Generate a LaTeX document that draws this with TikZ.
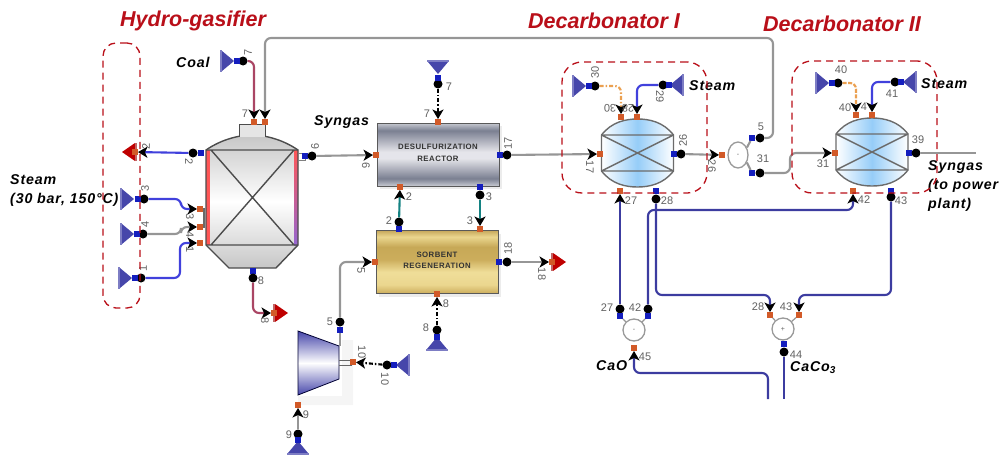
\documentclass[tikz,border=0pt]{standalone}
\usepackage{fontspec}
\setmainfont{Liberation Sans}
\newfontfamily\spacedfont[LetterSpace=6]{Liberation Sans}
\usetikzlibrary{arrows.meta, positioning, shapes.geometric, shadows}
\definecolor{redmark}{RGB}{185,15,25}
\definecolor{feedblue}{RGB}{70,70,170}
\definecolor{portblue}{RGB}{20,30,190}
\definecolor{portorange}{RGB}{210,90,40}
\definecolor{steamblue}{RGB}{65,65,220}
\definecolor{solidblue}{RGB}{60,60,160}
\definecolor{coalred}{RGB}{170,70,100}
\definecolor{loopteal}{RGB}{20,130,130}
\definecolor{gasgray}{RGB}{150,150,150}
\definecolor{heatorange}{RGB}{235,160,80}
\definecolor{vesselblue}{RGB}{150,205,248}
\pgfdeclareverticalshading{desulfband}{100bp}{
    rgb(0bp)=(0.78,0.79,0.82); rgb(25bp)=(0.78,0.79,0.82); rgb(31bp)=(0.48,0.50,0.57);
    rgb(47bp)=(0.90,0.90,0.92); rgb(52bp)=(0.90,0.90,0.92); rgb(69bp)=(0.48,0.50,0.57);
    rgb(75bp)=(0.78,0.79,0.82); rgb(100bp)=(0.78,0.79,0.82)}
\pgfdeclareverticalshading{goldband}{100bp}{
    rgb(0bp)=(0.80,0.68,0.36); rgb(25bp)=(0.80,0.68,0.36); rgb(32bp)=(0.92,0.84,0.56);
    rgb(42bp)=(0.94,0.87,0.60); rgb(52bp)=(0.80,0.68,0.36); rgb(62bp)=(0.78,0.66,0.34);
    rgb(70bp)=(0.92,0.84,0.56); rgb(75bp)=(0.78,0.66,0.36); rgb(100bp)=(0.78,0.66,0.36)}

\begin{document}
\begin{tikzpicture}[
        x=1pt, y=-1pt,
        dotnode/.style={circle, fill=black, inner sep=0pt, minimum size=9pt},
        inport/.style={fill=portorange, inner sep=0pt, minimum size=5.5pt},
        outport/.style={fill=portblue, inner sep=0pt, minimum size=5.5pt},
        num/.style={text=black!62, inner sep=0pt, font=\fontsize{11}{11}\selectfont},
        title/.style={text=redmark, inner sep=0pt, font=\fontsize{21.5}{22}\bfseries\itshape\selectfont},
        note/.style={align=left, inner sep=0pt, font=\fontsize{14.2}{19}\spacedfont\bfseries\itshape\selectfont},
        boxtext/.style={align=center, text=black!80, font=\fontsize{7.8}{11.5}\spacedfont\bfseries\selectfont},
        dashbox/.style={draw=redmark, dash pattern=on 7pt off 5pt, line width=1.3pt, rounded corners=13pt, inner sep=0pt},
        mixnode/.style={draw=black!40, line width=1.3pt, fill=white, inner sep=0pt, text=black!60, font=\fontsize{7}{7}\selectfont},
        flow/.style={-{Stealth[black, length=9.5pt, width=11pt, inset=2.5pt]}, line width=2.1pt, rounded corners=6pt},
        plain/.style={line width=2.1pt, rounded corners=6pt},
        dashflow/.style={flow, dash pattern=on 4pt off 2pt on 1.5pt off 2pt},
        feed/.pic={
            \fill[feedblue] (0,0) -- (-12,-10) -- (-12,10) -- cycle;
            \fill[feedblue!70] (-14,-11) rectangle (-12,11);
        },
        sink/.pic={
            \fill[red!75!black] (0,-9) -- (13,0) -- (0,9) -- cycle;
            \fill[red!60!black!60] (-2,-9) rectangle (0,9);
        },
        vessel/.pic={
            \path[left color=white, right color=white, middle color=vesselblue]
                (-36,-18) .. controls (-26,-31) and (-12,-34) .. (0,-34) .. controls (12,-34) and (26,-31) .. (36,-18)
                -- (36,18) .. controls (26,31) and (12,34) .. (0,34) .. controls (-12,34) and (-26,31) .. (-36,18) -- cycle;
            \draw[black!58, line width=1.4pt]
                (-36,-18) .. controls (-26,-31) and (-12,-34) .. (0,-34) .. controls (12,-34) and (26,-31) .. (36,-18)
                -- (36,18) .. controls (26,31) and (12,34) .. (0,34) .. controls (-12,34) and (-26,31) .. (-36,18) -- cycle;
            \draw[black!58, line width=1.4pt] (-36,-18) -- (36,-18) (-36,18) -- (36,18) (-36,-18) -- (36,18) (-36,18) -- (36,-18);
        }
    ]
    \useasboundingbox (0,0) rectangle (1000,455);

    % gasifier
    \path[top color=black!22, bottom color=black!22, middle color=white]
        (206,150) .. controls (222,139) and (240,135) .. (252,135) .. controls (264,135) and (282,139) .. (298,150)
        -- (298,245) -- (276,268) -- (229,268) -- (206,245) -- cycle;
    \fill[red!55!pink] (206,150) rectangle (210,245);
    \path[top color=red!55!pink, bottom color=blue!40!violet!60] (294,150) rectangle (298,245);
    \draw[black!70, line width=1.4pt]
        (206,150) .. controls (222,139) and (240,135) .. (252,135) .. controls (264,135) and (282,139) .. (298,150)
        -- (298,245) -- (276,268) -- (229,268) -- (206,245) -- cycle;
    \draw[black!70, line width=1.4pt] (206,150) -- (298,150) (206,245) -- (298,245) (211,150) -- (294,245) (211,245) -- (294,150);
    \draw[black!70, line width=1pt, fill=white!90!black] (239,137) -- (239,124) -- (265,124) -- (265,137);
    \draw[black!50, line width=1pt] (298,153) -- (305,153) -- (305,160) -- (298,160);

    % reactors
    \node[draw=black!65, shading=desulfband, minimum width=122pt, minimum height=63pt, inner sep=0pt,
        drop shadow={shadow xshift=3pt, shadow yshift=-3pt, opacity=.15}] (desulf) at (438,154.5) {};
    \node[boxtext] (desulftext) at (438,153) {DESULFURIZATION\\REACTOR};
    \node[draw=black!65, shading=goldband, minimum width=122pt, minimum height=63pt, inner sep=0pt,
        drop shadow={shadow xshift=3pt, shadow yshift=-3pt, opacity=.15}] (sorbent) at (437,262) {};
    \node[boxtext] (sorbenttext) at (437,260.5) {SORBENT\\REGENERATION};

    % compressor
    \fill[black!4] (342,340) rectangle (353,405) (298,396) rectangle (353,405);
    \path[top color=feedblue, bottom color=feedblue, middle color=white] (298,331) -- (339,346) -- (339,379) -- (298,395) -- cycle;
    \draw[black!80!blue, line width=.8pt] (298,331) -- (339,346) -- (339,379) -- (298,395) -- cycle;
    \draw[black!60, line width=.8pt] (339,360) -- (352,360) (339,365) -- (352,365);

    % decarbonator vessels
    \pic at (637.5,153) {vessel};
    \pic at (872,152) {vessel};

    % mixers and splitter
    \node[mixnode, ellipse, minimum width=20pt, minimum height=26pt] (split) at (738,155) {-};
    \node[mixnode, circle, minimum size=22pt] (mixcao) at (634,330) {-};
    \node[mixnode, circle, minimum size=22pt] (mixcaco) at (783,329) {+};

    % sources and sinks
    \pic at (234,61) {feed};
    \pic at (134,199) {feed};
    \pic at (134,234) {feed};
    \pic at (132,278) {feed};
    \pic[rotate=-90] at (438,74) {feed};
    \pic[rotate=90] at (437,337) {feed};
    \pic[rotate=90] at (298,441) {feed};
    \pic[rotate=180] at (396,365) {feed};
    \pic at (586,86) {feed};
    \pic[rotate=180] at (670,85) {feed};
    \pic at (829,83) {feed};
    \pic[rotate=180] at (903,82) {feed};
    \pic[rotate=180] at (135,152) {sink};
    \pic at (275,313) {sink};
    \pic at (553,262) {sink};

    % junction dots and ports
    \node[dotnode] (d7coal) at (243,61) {};
    \node[outport] (b7coal) at (237,61) {};
    \node[inport] (p7coal) at (254,122) {};
    \node[inport] (p7back) at (265,122) {};
    \node[dotnode] (d2out) at (193,153) {};
    \node[outport] (b2out) at (201,153) {};
    \node[inport] (p2out) at (135,152) {};
    \node[dotnode] (d3) at (144,199) {};
    \node[outport] (b3) at (138,199) {};
    \node[inport] (p3) at (200,209) {};
    \node[dotnode] (d4) at (143,234) {};
    \node[outport] (b4) at (137,234) {};
    \node[inport] (p4) at (200,227) {};
    \node[dotnode] (d1) at (141,278) {};
    \node[outport] (b1) at (135,278) {};
    \node[inport] (p1) at (200,243) {};
    \node[outport] (b8bot) at (253,271) {};
    \node[dotnode] (d8bot) at (253,278) {};
    \node[inport] (p8bot) at (274,313) {};
    \node[outport] (b6) at (305,156) {};
    \node[dotnode] (d6) at (312,156) {};
    \node[inport] (p6) at (376,155) {};
    \node[inport] (p7top) at (438,122) {};
    \node[dotnode] (d7top) at (438,84) {};
    \node[outport] (b7top) at (438,78) {};
    \node[outport] (b17) at (500,155) {};
    \node[dotnode] (d17) at (507,155) {};
    \node[inport] (p17) at (600,154) {};
    \node[inport] (p2up) at (400,187) {};
    \node[dotnode] (d2up) at (399,222) {};
    \node[outport] (b2up) at (399,229) {};
    \node[outport] (b3dn) at (480,187) {};
    \node[dotnode] (d3dn) at (480,195) {};
    \node[inport] (p3dn) at (480,229) {};
    \node[inport] (p5) at (375,262) {};
    \node[dotnode] (d5comp) at (340,322) {};
    \node[outport] (b5comp) at (340,330) {};
    \node[outport] (b18) at (499,262) {};
    \node[dotnode] (d18) at (507,262) {};
    \node[inport] (p18) at (552,262) {};
    \node[inport] (p8reg) at (437,294) {};
    \node[dotnode] (d8reg) at (437,330) {};
    \node[outport] (b8reg) at (437,337) {};
    \node[inport] (p10) at (353,362) {};
    \node[dotnode] (d10) at (387,365) {};
    \node[outport] (b10) at (394,365) {};
    \node[inport] (p9) at (298,405) {};
    \node[dotnode] (d9) at (298,434) {};
    \node[outport] (b9) at (298,440) {};
    \node[dotnode] (d30) at (595,86) {};
    \node[outport] (b30) at (589,86) {};
    \node[inport] (p30) at (621,117) {};
    \node[dotnode] (d29) at (663,85) {};
    \node[outport] (b29) at (669,85) {};
    \node[inport] (p29) at (637,117) {};
    \node[outport] (b26) at (674,154) {};
    \node[dotnode] (d26) at (681,154) {};
    \node[inport] (p26) at (722,155) {};
    \node[outport] (b5split) at (752,138) {};
    \node[dotnode] (d5split) at (760,138) {};
    \node[outport] (b31split) at (752,173) {};
    \node[dotnode] (d31split) at (760,173) {};
    \node[inport] (p27) at (620,191) {};
    \node[outport] (b28) at (656,191) {};
    \node[dotnode] (d28) at (656,199) {};
    \node[dotnode] (d27) at (620,309) {};
    \node[outport] (b27) at (620,316) {};
    \node[dotnode] (d42mix) at (648,309) {};
    \node[outport] (b42mix) at (648,316) {};
    \node[inport] (p45) at (634,348) {};
    \node[inport] (p28) at (770,315) {};
    \node[inport] (p43) at (799,315) {};
    \node[outport] (b44) at (784,344) {};
    \node[dotnode] (d44) at (784,352) {};
    \node[inport] (p42) at (853,191) {};
    \node[outport] (b43) at (891,191) {};
    \node[dotnode] (d43) at (891,197) {};
    \node[dotnode] (d40) at (838,83) {};
    \node[outport] (b40) at (832,83) {};
    \node[inport] (p40) at (856,115) {};
    \node[dotnode] (d41) at (895,82) {};
    \node[outport] (b41) at (901,82) {};
    \node[inport] (p41) at (872,115) {};
    \node[inport] (p31) at (835,153) {};
    \node[outport] (b39) at (909,153) {};
    \node[dotnode] (d39) at (916,153) {};
    \coordinate (synout) at (976,153);
    \coordinate (cao) at (768,399);
    \coordinate (caco) at (784,399);

    % connectors
    \draw[flow, coalred] (d7coal) -| (p7coal);
    \draw[flow, gasgray] (d5split) -- (773,138) -- (773,38) -| (p7back);
    \draw[flow, steamblue] (d2out) -- (p2out);
    \draw[flow, steamblue] (d3) -- (181,199) |- (p3);
    \draw[flow, gasgray] (d4) -- (181,234) |- (p4);
    \draw[flow, steamblue] (d1) -- (180,278) |- (p1);
    \draw[gasgray!70!black, line width=1.2pt] (p3) -- (204,209) -- (204,227) -- (p4);
    \draw[flow, coalred] (d8bot) |- (p8bot);
    \draw[flow, gasgray] (d6) -- (p6);
    \draw[dashflow, black] (d7top) -- (p7top);
    \draw[flow, gasgray] (d17) -- (p17);
    \draw[flow, loopteal] (d2up) -- (p2up);
    \draw[flow, loopteal] (d3dn) -- (p3dn);
    \draw[flow, gasgray] (d5comp) |- (p5);
    \draw[flow, gasgray] (d18) -- (p18);
    \draw[dashflow, black] (d8reg) -- (p8reg);
    \draw[dashflow, black] (d10) -- (p10);
    \draw[flow, gasgray] (d9) -- (p9);
    \draw[plain, gasgray] (b5comp) -- (340,346);
    \draw[dashflow, heatorange] (d30) -| (p30);
    \draw[flow, steamblue] (d29) -| (p29);
    \draw[flow, gasgray] (d26) -- (p26);
    \draw[plain, gasgray, rounded corners=0pt] (split.40) -- (b5split);
    \draw[plain, gasgray, rounded corners=0pt] (split.-40) -- (b31split);
    \draw[flow, gasgray] (d31split) -- (790,173) |- (p31);
    \draw[flow, solidblue] (d27) -- (p27);
    \draw[flow, solidblue] (d28) -- (656,295) -| (p28);
    \draw[flow, solidblue] (d43) -- (891,295) -| (p43);
    \draw[flow, solidblue] (d42mix) -- (648,210) -| (p42);
    \draw[flow, solidblue] (cao) -- (768,373) -| (p45);
    \draw[plain, solidblue] (d44) -- (caco);
    \draw[flow, heatorange, dash pattern=on 4pt off 1.5pt] (d40) -| (p40);
    \draw[flow, steamblue] (d41) -| (p41);
    \draw[plain, gasgray] (d39) -- (synout);
    \draw[gasgray, line width=1.2pt] (mixcao) -- (b27) (mixcao) -- (b42mix) (mixcaco) -- (p28) (mixcaco) -- (p43);

    % stream numbers
    \node[num, rotate=90] (n7coal) at (248,52) {7};
    \node[num] (n7in) at (245,114) {7};
    \node[num, rotate=90] (n2a) at (146,146) {2};
    \node[num, rotate=-90] (n2b) at (189,162) {2};
    \node[num, rotate=90] (n3a) at (145,188) {3};
    \node[num, rotate=-90] (n3b) at (190,217) {3};
    \node[num, rotate=90] (n4a) at (145,224) {4};
    \node[num, rotate=-90] (n4b) at (190,235) {4};
    \node[num, rotate=90] (n1a) at (143,268) {1};
    \node[num, rotate=-90] (n1b) at (190,250) {1};
    \node[num] (n8a) at (261,281) {8};
    \node[num, rotate=-90] (n8b) at (265,321) {8};
    \node[num, rotate=90] (n6a) at (315,146) {6};
    \node[num, rotate=-90] (n6b) at (366,166) {6};
    \node[num] (n7a) at (449,87) {7};
    \node[num] (n7b) at (427,114) {7};
    \node[num, rotate=90] (n17a) at (508,143) {17};
    \node[num, rotate=-90] (n17b) at (590,167) {17};
    \node[num] (n2c) at (409,197) {2};
    \node[num] (n2d) at (389,221) {2};
    \node[num] (n3c) at (489,197) {3};
    \node[num] (n3d) at (470,221) {3};
    \node[num, rotate=-90] (n5a) at (361,271) {5};
    \node[num] (n5b) at (330,322) {5};
    \node[num, rotate=90] (n18a) at (508,248) {18};
    \node[num, rotate=-90] (n18b) at (542,274) {18};
    \node[num] (n8c) at (446,304) {8};
    \node[num] (n8d) at (426,328) {8};
    \node[num, rotate=-90] (n10a) at (362,352) {10};
    \node[num, rotate=-90] (n10b) at (385,379) {10};
    \node[num] (n9a) at (306,415) {9};
    \node[num] (n9b) at (289,435) {9};
    \node[num, rotate=90] (n30a) at (595,72) {30};
    \node[num, rotate=180] (n30b) at (610,108) {30};
    \node[num, rotate=180] (n28top) at (628,108) {28};
    \node[num, rotate=-90] (n29) at (660,97) {29};
    \node[num, rotate=90] (n26a) at (683,140) {26};
    \node[num, rotate=-90] (n26b) at (712,166) {26};
    \node[num] (n5s) at (761,127) {5};
    \node[num] (n31s) at (763,159) {31};
    \node[num] (n27a) at (631,201) {27};
    \node[num] (n28a) at (667,201) {28};
    \node[num] (n27b) at (607,308) {27};
    \node[num] (n42a) at (635,308) {42};
    \node[num] (n45) at (645,357) {45};
    \node[num] (n28b) at (758,307) {28};
    \node[num] (n43a) at (786,307) {43};
    \node[num] (n44) at (796,355) {44};
    \node[num] (n42b) at (864,200) {42};
    \node[num] (n43b) at (901,201) {43};
    \node[num] (n40a) at (841,70) {40};
    \node[num] (n40b) at (845,108) {40};
    \node[num] (n4s) at (864,107) {4};
    \node[num] (n41) at (892,94) {41};
    \node[num] (n31b) at (823,164) {31};
    \node[num] (n39) at (918,140) {39};

    % captions
    \node[title, anchor=west] (tgasif) at (120,21) {Hydro-gasifier};
    \node[title, anchor=west] (tdecone) at (528,21) {Decarbonator I};
    \node[title, anchor=west] (tdectwo) at (763,24) {Decarbonator II};
    \node[note, anchor=west] (ncoal) at (176,62) {Coal};
    \node[note, anchor=west] (nsteam) at (10,191) {Steam\\(30 bar, 150°C)};
    \node[note, anchor=west] (nsyn) at (314,122) {Syngas};
    \node[note, anchor=west] (nsteama) at (689,86) {Steam};
    \node[note, anchor=west] (nsteamb) at (921,84) {Steam};
    \node[note, anchor=north west] (nsynout) at (928,160) {Syngas\\(to power\\plant)};
    \node[note, anchor=west] (ncao) at (596,366) {CaO};
    \node[note, anchor=west] (ncaco) at (790,368) {CaCo\textsubscript{3}};

    % marked groups
    \node[dashbox, minimum width=37pt, minimum height=265pt] (hgbox) at (121.5,175.5) {};
    \node[dashbox, rounded corners=20pt, minimum width=145pt, minimum height=131pt] (decone) at (634.5,127.5) {};
    \node[dashbox, rounded corners=20pt, minimum width=145pt, minimum height=132pt] (dectwo) at (864.5,127) {};
    \end{tikzpicture}
\end{document}
